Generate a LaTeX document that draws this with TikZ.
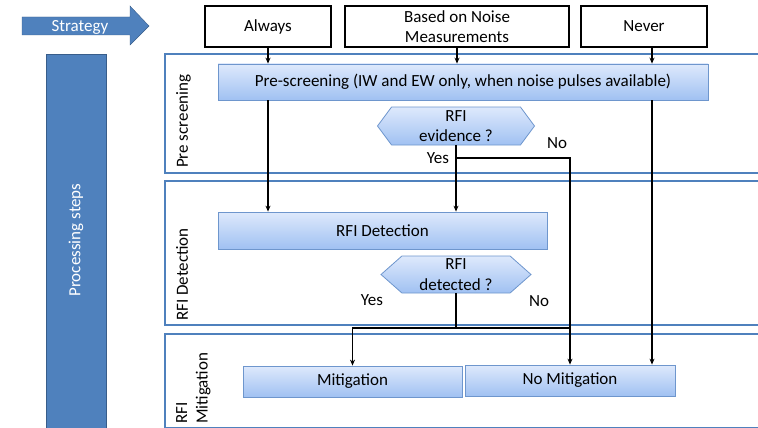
\documentclass[tikz,border=0pt]{standalone}
\usepackage{fontspec}
\setmainfont{Carlito}
\usetikzlibrary{arrows.meta,shapes.symbols,calc}
\definecolor{stratb}{RGB}{79,129,189}
\definecolor{stratd}{RGB}{56,93,138}
\definecolor{laneb}{RGB}{79,129,189}
\definecolor{boxtop}{RGB}{222,233,252}
\definecolor{boxbot}{RGB}{160,193,242}
\definecolor{boxline}{RGB}{110,150,205}

\begin{document}
\begin{tikzpicture}[x=1pt, y=-1pt,
  every node/.style={font=\fontsize{17}{20.5}\selectfont},
  stratbox/.style={draw, line width=1.4pt, minimum width=126pt, minimum height=41pt, align=center, inner sep=1pt},
  stepbox/.style={draw=boxline, line width=0.8pt, top color=boxtop, bottom color=boxbot, inner sep=0pt},
  query/.style={signal, signal to=east and west, draw=boxline, line width=0.8pt, top color=boxtop, bottom color=boxbot, align=center, inner sep=0pt},
  lanelbl/.style={rotate=90, anchor=north west, align=left, inner sep=0pt},
  arr/.style={-{Stealth[length=6pt,width=5pt]}, line width=1.2pt},
  ln/.style={line width=1.2pt}]
  \useasboundingbox (0,0) rectangle (758,428);
  \clip (0,0) rectangle (758,428);
  % strategy and processing
  \draw[stratd, fill=stratb] (22,17) -- (130,17) -- (130,6) -- (149,26) -- (130,45) -- (130,35) -- (22,35) -- cycle;
  \node[text=white] (strategy) at (80,27.5) {Strategy};
  \draw[stratd, fill=stratb] (46,54) rectangle (106,440);
  \node[rotate=90, text=white] (procsteps) at (76,240) {Processing steps};
  % lanes
  \draw[laneb, line width=1.2pt] (165,54) rectangle (770,173);
  \draw[laneb, line width=1.2pt] (165,181) rectangle (770,325);
  \draw[laneb, line width=1.2pt] (165,334) rectangle (770,427.5);
  \node[lanelbl] (lblpre) at (176,168) {Pre screening};
  \node[lanelbl] (lbldet) at (176,321) {RFI Detection};
  \node[lanelbl] (lblmit) at (176,424) {RFI\\Mitigation};
  % strategies
  \node[stratbox] (always) at (268,26.5) {Always};
  \node[stratbox, minimum width=224pt] (noise) at (457,26.5) {Based on Noise\\Measurements};
  \node[stratbox] (never) at (644,26.5) {Never};
  % steps
  \node[stepbox, minimum width=490pt, minimum height=36pt] (prescr) at (463,82) {Pre-screening (IW and EW only, when noise pulses available)};
  \node[stepbox, minimum width=329pt, minimum height=37pt] (detect) at (382.5,230.5) {RFI Detection};
  \node[stepbox, minimum width=219pt, minimum height=31pt] (mitig) at (352.5,381.5) {Mitigation};
  \node[stepbox, minimum width=210pt, minimum height=31pt] (nomitig) at (570,380.5) {No Mitigation};
  \node[query, minimum width=157pt, minimum height=38pt, signal pointer angle=107] (evid) at (456,126) {RFI\\evidence ?};
  \node[query, minimum width=150pt, minimum height=37pt, signal pointer angle=83] (detq) at (456,274.5) {RFI\\detected ?};
  \node (yes1) at (438,158) {Yes};
  \node (no1) at (557,143) {No};
  \node (yes2) at (372,300) {Yes};
  \node (no2) at (539,301) {No};
  % links
  \coordinate (nvr) at (652,47);
  \draw[arr] (always.south) -- (always.south |- prescr.north);
  \draw[arr] (noise.south) -- (noise.south |- prescr.north);
  \draw[arr] (nvr) -- (nvr |- prescr.north);
  \draw[arr] (prescr.south -| always) -- (detect.north -| always);
  \draw[arr] (prescr.south -| nvr) -- (nomitig.north -| nvr);
  \draw[arr] (evid.south) -- (evid.south |- detect.north);
  \coordinate (evno) at (456,158);
  \draw[arr] (evno) -| (nomitig.north);
  \coordinate (detj) at (456,328);
  \draw[ln] (detq.south) -- (detj);
  \draw[arr] (detj) -| (mitig.north);
  \draw[ln] (detj) -- (detj -| nomitig.north);
\end{tikzpicture}
\end{document}
